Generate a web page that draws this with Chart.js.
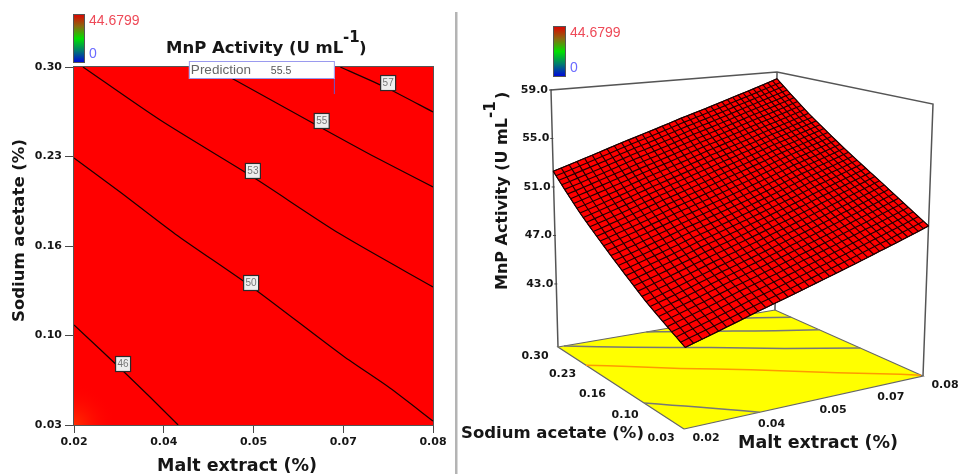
<!DOCTYPE html>
<html>
<head>
<meta charset="utf-8">
<script src="https://cdn.jsdelivr.net/npm/chart.js@4/dist/chart.umd.js"></script>
<style>
html,body{margin:0;padding:0;background:#fff;width:959px;height:474px;overflow:hidden}
canvas{position:absolute;top:0;filter:blur(0.5px)}
#left{left:0}
#right{left:455px}
</style>
</head>
<body>
<canvas id="left" width="455" height="474"></canvas>
<canvas id="right" width="504" height="474"></canvas>
<script>
// ---------- values ----------
const maltTicks = [0.02, 0.035, 0.05, 0.065, 0.08];
const maltTickLabels = ['0.02', '0.04', '0.05', '0.07', '0.08'];
const sodiumTicks = [0.03, 0.0975, 0.165, 0.2325, 0.30];
const sodiumTickLabels = ['0.03', '0.10', '0.16', '0.23', '0.30'];
const activityTicks = [43, 47, 51, 55, 59];
const activityTickLabels = ['43.0', '47.0', '51.0', '55.0', '59.0'];
const colorBarLabels = ['44.6799', '0'];
const predictionValue = '55.5';
const predictionPoint = {x: 0.0636, y: 0.2796};

const contour46 = [[0.02,0.1054],[0.0243,0.0873],[0.0282,0.0707],[0.0327,0.0511],[0.0374,0.03]];
const contour50 = [[0.02,0.2314],[0.0277,0.2057],[0.0369,0.1741],[0.0497,0.1341],[0.065,0.082],[0.0728,0.0579],[0.08,0.033]];
const contour53 = [[0.0215,0.30],[0.0344,0.26],[0.0499,0.217],[0.0645,0.174],[0.08,0.1341]];
const contour55 = [[0.0429,0.30],[0.0469,0.2902],[0.0614,0.254],[0.0703,0.2321],[0.08,0.2095]];
const contour57 = [[0.0645,0.30],[0.0723,0.2842],[0.08,0.2661]];

const contourLabels = [
  {text:'46', x:0.0282, y:0.076},
  {text:'50', x:0.0496, y:0.1371},
  {text:'53', x:0.0499, y:0.2216},
  {text:'55', x:0.0614, y:0.2593},
  {text:'57', x:0.0725, y:0.2879}
];

// MnP activity at the tick positions (rows: sodium acetate, columns: malt extract)
const activityAt003 = [44.0, 45.6, 47.0, 48.3, 49.5];
const activityAt010 = [45.8, 47.5, 49.0, 50.4, 51.7];
const activityAt016 = [47.9, 49.6, 51.1, 52.6, 53.8];
const activityAt023 = [50.0, 51.8, 53.4, 54.8, 56.0];
const activityAt030 = [52.3, 54.1, 55.7, 57.1, 58.4];
const activityRows = [activityAt003, activityAt010, activityAt016, activityAt023, activityAt030];

// ---------- style and view ----------
const BOLD = '"DejaVu Sans"';
const LABEL = '"Liberation Sans"';
const AXIS = '#4a4a4a';
const INK = '#161616';

function text(ctx, s, x, y, font, color, align, rot) {
  ctx.save();
  ctx.translate(x, y);
  if (rot) ctx.rotate(rot);
  ctx.font = font;
  ctx.fillStyle = color;
  ctx.textAlign = align || 'left';
  ctx.textBaseline = 'middle';
  ctx.fillText(s, 0, 0);
  ctx.restore();
}
function colorBar(ctx, x, y, w, h) {
  const g = ctx.createLinearGradient(0, y, 0, y + h);
  g.addColorStop(0, '#e00000');
  g.addColorStop(0.25, '#8a6a10');
  g.addColorStop(0.5, '#00e000');
  g.addColorStop(0.75, '#007a70');
  g.addColorStop(1, '#0000e0');
  ctx.fillStyle = g;
  ctx.fillRect(x, y, w, h);
  ctx.strokeStyle = '#555';
  ctx.lineWidth = 1;
  ctx.strokeRect(x + .5, y + .5, w - 1, h - 1);
  text(ctx, colorBarLabels[0], x + w + 4, y + 7, '14px ' + LABEL, '#ee4a58');
  text(ctx, colorBarLabels[1], x + w + 4, y + h - 9, '14px ' + LABEL, '#6a6aff');
}
function toPairs(c) { return c.map(p => ({x: p[0], y: p[1]})); }

// ---------- left: contour plot ----------
const leftPlugin = {
  id: 'contourDecor',
  beforeDatasetsDraw(chart) {
    const {ctx, chartArea: a} = chart;
    ctx.save();
    ctx.fillStyle = '#ff0000';
    ctx.fillRect(a.left, a.top, a.right - a.left, a.bottom - a.top);
    const g = ctx.createRadialGradient(a.left, a.bottom, 0, a.left, a.bottom, 42);
    g.addColorStop(0, 'rgba(255,90,0,0.5)');
    g.addColorStop(1, 'rgba(255,0,0,0)');
    ctx.fillStyle = g;
    ctx.fillRect(a.left, a.bottom - 42, 42, 42);
    ctx.restore();
  },
  afterDatasetsDraw(chart) {
    const {ctx, chartArea: a, scales} = chart;
    ctx.save();
    ctx.strokeStyle = '#555';
    ctx.lineWidth = 1;
    ctx.strokeRect(a.left - .5, a.top - .5, a.right - a.left + 1, a.bottom - a.top + 1);
    contourLabels.forEach(l => {
      const x = scales.x.getPixelForValue(l.x), y = scales.y.getPixelForValue(l.y);
      ctx.fillStyle = '#eeeeee';
      ctx.fillRect(x - 7.5, y - 7.5, 15, 15);
      ctx.strokeStyle = '#2a2a2a';
      ctx.lineWidth = 1.2;
      ctx.strokeRect(x - 7.5, y - 7.5, 15, 15);
      text(ctx, l.text, x, y + .5, '10px ' + LABEL, '#777', 'center');
    });
    // prediction flag
    const px = scales.x.getPixelForValue(predictionPoint.x), py = scales.y.getPixelForValue(predictionPoint.y);
    const bw = 146, bh = 18, bx = px - bw, by = a.top - 6;
    ctx.fillStyle = '#fff';
    ctx.fillRect(bx, by, bw, bh);
    ctx.lineWidth = 1;
    ctx.strokeStyle = '#9a9aee';
    ctx.strokeRect(bx + .5, by + .5, bw - 1, bh - 1);
    ctx.strokeStyle = '#6a5acd';
    ctx.beginPath(); ctx.moveTo(px - .5, by + bh); ctx.lineTo(px - .5, py); ctx.stroke();
    text(ctx, 'Prediction', bx + 2, by + 9.5, '13.5px ' + LABEL, '#666');
    text(ctx, predictionValue, bx + 82, by + 10.5, '10.5px ' + LABEL, '#555');
    ctx.restore();
  },
  afterDraw(chart) {
    const ctx = chart.ctx;
    colorBar(ctx, 73, 14, 12, 49);
    text(ctx, 'MnP Activity (U mL', 166, 49, 'bold 16.5px ' + BOLD, INK);
    text(ctx, '-1', 343, 38, 'bold 15px ' + BOLD, INK);
    text(ctx, ')', 359, 49, 'bold 16.5px ' + BOLD, INK);
    text(ctx, 'Malt extract (%)', 157, 466, 'bold 17.5px ' + BOLD, INK);
    text(ctx, 'Sodium acetate (%)', 20, 322, 'bold 16.5px ' + BOLD, INK, 'left', -Math.PI/2);
  }
};
new Chart(document.getElementById('left'), {
  type: 'scatter',
  data: {datasets: [contour46, contour50, contour53, contour55, contour57].map(c => ({
    data: toPairs(c), showLine: true, pointRadius: 0, borderColor: '#1a0000', borderWidth: 1.2, tension: 0.25
  }))},
  options: {
    responsive: false, animation: false, events: [],
    layout: {padding: {top: 67, right: 22, left: 0, bottom: 0}},
    plugins: {legend: {display: false}, tooltip: {enabled: false}},
    scales: {
      x: {
        type: 'linear', min: 0.02, max: 0.08,
        afterBuildTicks(s) { s.ticks = maltTicks.map(v => ({value: v})); },
        afterFit(s) { s.height = 49; },
        grid: {drawOnChartArea: false, tickLength: 8, tickColor: AXIS, color: AXIS},
        border: {display: false},
        ticks: {autoSkip: false, maxRotation: 0, padding: 3, color: INK, font: {family: BOLD, weight: 'bold', size: 11},
          callback: (v, i) => maltTickLabels[i]}
      },
      y: {
        type: 'linear', min: 0.03, max: 0.30,
        afterBuildTicks(s) { s.ticks = sodiumTicks.map(v => ({value: v})); },
        afterFit(s) { s.width = 74; },
        grid: {drawOnChartArea: false, tickLength: 9, tickColor: AXIS, color: AXIS},
        border: {display: false},
        ticks: {autoSkip: false, padding: 3, color: INK, font: {family: BOLD, weight: 'bold', size: 11},
          callback: (v, i) => sodiumTickLabels[i]}
      }
    }
  },
  plugins: [leftPlugin]
});

// ---------- right: 3D response surface ----------
// Camera of the box: where its floor and ceiling corners land on the page.
const floorQuad = [[684,429],[923,376],[775,310],[558,347]]; // (malt,sodium): lo/lo, hi/lo, hi/hi, lo/hi
const ceilQuad  = [[688,150],[933,104],[777,72],[551,90]];
const zFloor = 37.8, zCeil = 59;

function squareToQuad(q) {
  const [[x0,y0],[x1,y1],[x2,y2],[x3,y3]] = q;
  const dx1=x1-x2, dx2=x3-x2, sx=x0-x1+x2-x3, dy1=y1-y2, dy2=y3-y2, sy=y0-y1+y2-y3;
  const d=dx1*dy2-dx2*dy1, g=(sx*dy2-dx2*sy)/d, h=(dx1*sy-sx*dy1)/d;
  const a=x1-x0+g*x1, b=x3-x0+h*x3, c=x0, e=y1-y0+g*y1, f=y3-y0+h*y3, i=y0;
  return (u,v)=>{ const w=g*u+h*v+1; return [(a*u+b*v+c)/w,(e*u+f*v+i)/w]; };
}
const floorMap = squareToQuad(floorQuad), ceilMap = squareToQuad(ceilQuad);
const U = m => (m - maltTicks[0]) / (maltTicks[4] - maltTicks[0]);
const V = s => (s - sodiumTicks[0]) / (sodiumTicks[4] - sodiumTicks[0]);
function project(m, s, z) {
  const a = floorMap(U(m), V(s)), b = ceilMap(U(m), V(s)), t = (z - zFloor) / (zCeil - zFloor);
  return {x: a[0] + (b[0] - a[0]) * t, y: a[1] + (b[1] - a[1]) * t};
}
// Rendering step only: the wireframe is finer than the read table, so the drawn mesh subdivides
// each cell of activityRows. The series itself remains the read values above.
const MESH = 36;
function surfaceAt(u, v) {
  const fu = Math.min(u * 4, 3.9999), fv = Math.min(v * 4, 3.9999), i = Math.floor(fu), j = Math.floor(fv), a = fu - i, b = fv - j;
  return (activityRows[j][i]*(1-a) + activityRows[j][i+1]*a)*(1-b) + (activityRows[j+1][i]*(1-a) + activityRows[j+1][i+1]*a)*b;
}
const mLo = maltTicks[0], mHi = maltTicks[4], sLo = sodiumTicks[0], sHi = sodiumTicks[4];
const surfPoint = (u, v) => project(mLo + u*(mHi-mLo), sLo + v*(sHi-sLo), surfaceAt(u, v));

const ds = [];
const seg = (pts, color, w) => ds.push({data: pts, showLine: true, pointRadius: 0, borderColor: color, borderWidth: w, fill: false});
const boxColor = '#555';
// back frame
seg([project(mLo,sHi,zFloor), project(mLo,sHi,zCeil), project(mHi,sHi,zCeil), project(mHi,sLo,zCeil), project(mHi,sLo,zFloor)], boxColor, 1.5);
seg([project(mHi,sHi,zFloor), project(mHi,sHi,zCeil)], boxColor, 1.5);
// floor
const floorPts = [[mLo,sLo],[mHi,sLo],[mHi,sHi],[mLo,sHi],[mLo,sLo]].map(p => project(p[0], p[1], zFloor));
ds.push({data: floorPts, showLine: true, pointRadius: 0, borderColor: '#666', borderWidth: 1.2, fill: 'shape', backgroundColor: '#ffff00'});
[[contour46,'#777'],[contour50,'#ff9a00'],[contour53,'#777'],[contour55,'#777'],[contour57,'#777']].forEach(([c, col]) => {
  ds.push({data: c.map(p => project(p[0], p[1], zFloor)), showLine: true, pointRadius: 0, borderColor: col, borderWidth: 1.5, tension: 0.25, fill: false});
});
// surface outline and fill
const outline = [];
for (let k = 0; k <= MESH; k++) outline.push(surfPoint(k/MESH, 0));
for (let k = 1; k <= MESH; k++) outline.push(surfPoint(1, k/MESH));
for (let k = MESH - 1; k >= 0; k--) outline.push(surfPoint(k/MESH, 1));
for (let k = MESH - 1; k >= 0; k--) outline.push(surfPoint(0, k/MESH));
ds.push({data: outline, showLine: true, pointRadius: 0, borderColor: '#200000', borderWidth: 1, fill: 'shape', backgroundColor: '#ff0000'});
// wireframe
for (let a = 0; a <= MESH; a++) {
  const row = [], col = [];
  for (let b = 0; b <= MESH; b++) { row.push(surfPoint(b/MESH, a/MESH)); col.push(surfPoint(a/MESH, b/MESH)); }
  seg(row, '#200000', 1.15);
  seg(col, '#200000', 1.15);
}
ds.forEach((d, i) => { d.order = ds.length - i; });

const rightPlugin = {
  id: 'surfaceDecor',
  afterDraw(chart) {
    const {ctx, scales} = chart;
    const X = v => scales.x.getPixelForValue(v), Y = v => scales.y.getPixelForValue(v);
    ctx.save();
    // divider between the panels
    ctx.fillStyle = '#b4b4b4';
    ctx.fillRect(X(455), Y(12), 2.5, 462);
    colorBar(ctx, X(553), Y(26), 13, 51);
    // height axis
    activityTicks.forEach((z, i) => {
      const p = project(mLo, sHi, z), x = X(p.x), y = Y(p.y);
      ctx.strokeStyle = '#444';
      ctx.beginPath(); ctx.moveTo(x - 2, y); ctx.lineTo(x + 1, y); ctx.stroke();
      text(ctx, activityTickLabels[i], x - 3, y, 'bold 11px ' + BOLD, INK, 'right');
    });
    // floor axes
    const font = 'bold 11px ' + BOLD;
    maltTicks.forEach((m, i) => {
      const p = project(m, sLo, zFloor);
      text(ctx, maltTickLabels[i], X(p.x) + 22, Y(p.y) + 9.5, font, INK, 'center');
    });
    sodiumTicks.forEach((s, i) => {
      const p = project(mLo, s, zFloor);
      text(ctx, sodiumTickLabels[i], X(p.x) - 23, Y(p.y) + 9.5, font, INK, 'center');
    });
    text(ctx, 'Sodium acetate (%)', X(461), Y(434), 'bold 16.5px ' + BOLD, INK);
    text(ctx, 'Malt extract (%)', X(738), Y(443), 'bold 17.5px ' + BOLD, INK);
    text(ctx, 'MnP Activity (U mL', X(503), Y(290), 'bold 16px ' + BOLD, INK, 'left', -Math.PI/2);
    text(ctx, '-1', X(491), Y(118), 'bold 15px ' + BOLD, INK, 'left', -Math.PI/2);
    text(ctx, ')', X(503), Y(99), 'bold 16px ' + BOLD, INK, 'left', -Math.PI/2);
    ctx.restore();
  }
};
new Chart(document.getElementById('right'), {
  type: 'scatter',
  data: {datasets: ds},
  options: {
    responsive: false, animation: false, events: [],
    layout: {padding: 0},
    plugins: {legend: {display: false}, tooltip: {enabled: false}},
    scales: {
      x: {type: 'linear', display: false, min: 455, max: 959},
      y: {type: 'linear', display: false, min: 0, max: 474, reverse: true}
    }
  },
  plugins: [rightPlugin]
});
</script>
</body>
</html>
